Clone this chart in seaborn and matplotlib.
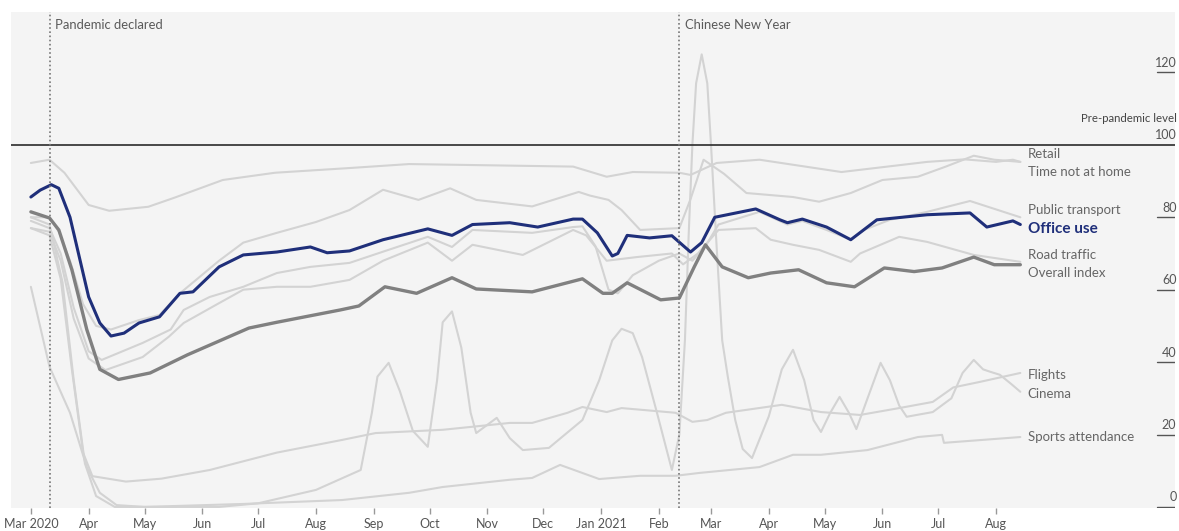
import matplotlib
matplotlib.use("Agg")
import matplotlib.pyplot as plt
import matplotlib.transforms as mtransforms
import pandas as pd
import seaborn as sns

sns.set_theme(style="white")
plt.rcParams['font.family'] = ['Lato', 'DejaVu Sans']

# ---- data (index, pre-pandemic level = 100) ----
office = [("2020-03-01", 85.6), ("2020-03-06", 87.5), ("2020-03-12", 89.0), ("2020-03-16", 88.0),
          ("2020-03-22", 80.0), ("2020-03-27", 69.0), ("2020-04-01", 58.0), ("2020-04-07", 50.8),
          ("2020-04-13", 47.2), ("2020-04-20", 48.0), ("2020-04-28", 50.8), ("2020-05-09", 52.5),
          ("2020-05-20", 59.0), ("2020-05-27", 59.4), ("2020-06-10", 66.3), ("2020-06-23", 69.6),
          ("2020-07-11", 70.4), ("2020-07-29", 71.8), ("2020-08-07", 70.2), ("2020-08-19", 70.7),
          ("2020-09-06", 73.8), ("2020-09-30", 76.8), ("2020-10-13", 75.0), ("2020-10-24", 78.0),
          ("2020-11-13", 78.5), ("2020-11-28", 77.3), ("2020-12-17", 79.5), ("2020-12-22", 79.5),
          ("2020-12-30", 75.7), ("2021-01-07", 69.3), ("2021-01-10", 70.0), ("2021-01-15", 75.0),
          ("2021-01-27", 74.3), ("2021-02-08", 74.9), ("2021-02-18", 70.4), ("2021-02-24", 73.0),
          ("2021-03-03", 80.0), ("2021-03-25", 82.3), ("2021-04-07", 79.3), ("2021-04-11", 78.5),
          ("2021-04-19", 79.5), ("2021-05-02", 77.3), ("2021-05-15", 73.8), ("2021-05-29", 79.3),
          ("2021-06-25", 80.7), ("2021-07-18", 81.2), ("2021-07-27", 77.3), ("2021-08-10", 79.0),
          ("2021-08-14", 78.0)]

overall = [("2020-03-01", 81.5), ("2020-03-11", 79.8), ("2020-03-16", 76.5), ("2020-03-23", 65.5),
           ("2020-03-31", 49.0), ("2020-04-07", 38.0), ("2020-04-17", 35.2), ("2020-05-04", 37.0),
           ("2020-05-24", 42.0), ("2020-06-26", 49.4), ("2020-07-11", 51.0), ("2020-08-14", 54.4),
           ("2020-08-24", 55.5), ("2020-09-07", 60.8), ("2020-09-24", 59.0), ("2020-10-13", 63.3),
           ("2020-10-26", 60.2), ("2020-11-25", 59.4), ("2020-12-22", 63.0), ("2021-01-02", 59.0),
           ("2021-01-07", 59.0), ("2021-01-15", 61.9), ("2021-02-02", 57.2), ("2021-02-12", 57.7),
           ("2021-02-20", 66.3), ("2021-02-26", 72.4), ("2021-03-07", 66.3), ("2021-03-21", 63.3),
           ("2021-04-02", 64.6), ("2021-04-17", 65.5), ("2021-05-02", 61.9), ("2021-05-17", 60.8),
           ("2021-06-02", 66.0), ("2021-06-18", 65.0), ("2021-07-03", 66.0), ("2021-07-20", 69.0),
           ("2021-07-31", 66.9), ("2021-08-14", 66.9)]

retail = [("2020-03-01", 95.0), ("2020-03-11", 95.9), ("2020-03-19", 92.3), ("2020-04-01", 83.4),
          ("2020-04-12", 81.8), ("2020-05-03", 82.9), ("2020-05-17", 85.4), ("2020-06-12", 90.3),
          ("2020-07-10", 92.3), ("2020-08-19", 93.6), ("2020-09-20", 94.7), ("2020-12-17", 94.0),
          ("2021-01-04", 91.2), ("2021-01-18", 92.5), ("2021-02-12", 92.3), ("2021-02-18", 91.7),
          ("2021-03-04", 95.0), ("2021-03-27", 95.9), ("2021-05-10", 92.5), ("2021-06-25", 95.3),
          ("2021-07-15", 96.0), ("2021-08-01", 95.3), ("2021-08-10", 95.9), ("2021-08-14", 95.3)]

time_not_home = [("2020-03-01", 80.0), ("2020-03-11", 80.0), ("2020-03-16", 76.0), ("2020-03-22", 68.0),
                 ("2020-03-29", 56.0), ("2020-04-05", 50.0), ("2020-04-13", 49.0), ("2020-04-28", 51.6),
                 ("2020-05-09", 53.0), ("2020-05-20", 59.0), ("2020-06-10", 68.0), ("2020-06-23", 73.0),
                 ("2020-07-11", 75.7), ("2020-08-01", 78.7), ("2020-08-19", 82.0), ("2020-09-06", 87.6),
                 ("2020-09-25", 84.8), ("2020-10-12", 88.0), ("2020-10-26", 84.8), ("2020-11-25", 83.0),
                 ("2020-12-20", 87.0), ("2020-12-26", 86.0), ("2021-01-05", 84.8), ("2021-01-12", 82.0),
                 ("2021-01-22", 76.5), ("2021-02-12", 77.0), ("2021-02-18", 85.0), ("2021-02-25", 95.9),
                 ("2021-03-08", 92.0), ("2021-03-20", 86.7), ("2021-04-14", 85.6), ("2021-04-28", 84.3),
                 ("2021-05-15", 86.7), ("2021-06-01", 90.3), ("2021-06-20", 91.2), ("2021-07-05", 94.0),
                 ("2021-07-20", 97.0), ("2021-07-31", 95.9), ("2021-08-14", 95.3)]

public_transport = [("2020-03-01", 79.0), ("2020-03-11", 77.0), ("2020-03-17", 70.0), ("2020-03-24", 55.0),
                    ("2020-04-01", 43.0), ("2020-04-08", 40.6), ("2020-04-30", 45.3), ("2020-05-15", 49.0),
                    ("2020-05-22", 54.4), ("2020-06-05", 58.0), ("2020-06-23", 60.8), ("2020-07-11", 64.6),
                    ("2020-07-29", 66.3), ("2020-08-19", 67.4), ("2020-09-06", 70.5), ("2020-09-30", 74.6),
                    ("2020-10-13", 71.8), ("2020-10-24", 76.5), ("2020-11-25", 75.7), ("2020-12-17", 77.3),
                    ("2020-12-22", 77.5), ("2020-12-29", 72.0), ("2021-01-05", 60.0), ("2021-01-10", 59.0),
                    ("2021-01-18", 64.0), ("2021-02-01", 68.0), ("2021-02-12", 70.0), ("2021-02-19", 68.0),
                    ("2021-02-26", 72.0), ("2021-03-05", 78.0), ("2021-03-27", 81.5), ("2021-04-11", 78.0),
                    ("2021-04-19", 79.0), ("2021-05-02", 76.5), ("2021-05-15", 73.8), ("2021-05-22", 76.5),
                    ("2021-06-05", 79.3), ("2021-06-25", 81.5), ("2021-07-18", 84.5), ("2021-08-14", 80.0)]

road_traffic = [("2020-03-01", 77.0), ("2020-03-11", 76.0), ("2020-03-17", 68.0), ("2020-03-24", 52.0),
                ("2020-04-01", 41.0), ("2020-04-10", 37.8), ("2020-04-30", 41.4), ("2020-05-14", 47.0),
                ("2020-05-22", 50.8), ("2020-06-09", 56.0), ("2020-06-23", 60.0), ("2020-07-11", 60.8),
                ("2020-07-29", 60.8), ("2020-08-19", 62.7), ("2020-09-06", 68.0), ("2020-09-30", 73.0),
                ("2020-10-13", 68.0), ("2020-10-24", 72.4), ("2020-11-20", 69.6), ("2020-12-17", 76.5),
                ("2020-12-24", 75.0), ("2021-01-04", 68.0), ("2021-01-20", 69.0), ("2021-02-08", 70.0),
                ("2021-02-14", 67.0), ("2021-02-22", 70.0), ("2021-03-05", 76.5), ("2021-03-25", 77.0),
                ("2021-04-02", 73.8), ("2021-04-14", 72.4), ("2021-04-28", 71.0), ("2021-05-15", 67.7),
                ("2021-05-20", 70.0), ("2021-06-10", 74.6), ("2021-06-25", 73.2), ("2021-07-20", 69.6),
                ("2021-08-14", 67.7)]

flights = [("2020-03-01", 77.0), ("2020-03-11", 75.0), ("2020-03-17", 63.0), ("2020-03-23", 38.0),
           ("2020-03-29", 15.0), ("2020-04-03", 8.5), ("2020-04-21", 7.0), ("2020-05-10", 7.8),
           ("2020-06-05", 10.2), ("2020-07-11", 15.0), ("2020-08-15", 18.5), ("2020-09-02", 20.4),
           ("2020-10-08", 21.3), ("2020-11-13", 23.2), ("2020-11-25", 23.2), ("2020-12-14", 26.0),
           ("2020-12-22", 27.6), ("2021-01-04", 26.2), ("2021-01-12", 27.3), ("2021-02-10", 26.0),
           ("2021-02-19", 23.5), ("2021-02-27", 24.0), ("2021-03-09", 26.0), ("2021-04-08", 28.2),
           ("2021-04-29", 26.2), ("2021-05-20", 25.4), ("2021-06-10", 27.3), ("2021-06-28", 29.0),
           ("2021-07-09", 33.0), ("2021-07-23", 34.5), ("2021-08-14", 37.0)]

cinema = [("2020-03-01", 80.0), ("2020-03-11", 78.0), ("2020-03-18", 62.0), ("2020-03-24", 35.0),
          ("2020-03-30", 12.0), ("2020-04-05", 3.0), ("2020-04-15", 0.0), ("2020-06-10", 0.0),
          ("2020-07-01", 1.0), ("2020-08-01", 4.7), ("2020-08-25", 10.2), ("2020-08-31", 26.0),
          ("2020-09-03", 36.0), ("2020-09-09", 39.8), ("2020-09-15", 32.0), ("2020-09-22", 21.0),
          ("2020-09-30", 16.6), ("2020-10-05", 35.0), ("2020-10-08", 51.0), ("2020-10-13", 54.0),
          ("2020-10-18", 44.0), ("2020-10-23", 26.0), ("2020-10-26", 20.4), ("2020-11-06", 24.6),
          ("2020-11-13", 19.0), ("2020-11-20", 15.7), ("2020-12-04", 16.3), ("2020-12-22", 24.0),
          ("2020-12-31", 35.0), ("2021-01-07", 46.0), ("2021-01-12", 49.2), ("2021-01-18", 48.0),
          ("2021-01-23", 41.4), ("2021-01-31", 26.0), ("2021-02-08", 10.2), ("2021-02-12", 20.0),
          ("2021-02-15", 46.0), ("2021-02-17", 75.0), ("2021-02-19", 100.0), ("2021-02-21", 117.0),
          ("2021-02-24", 125.0), ("2021-02-27", 117.0), ("2021-03-01", 100.0), ("2021-03-04", 72.0),
          ("2021-03-07", 46.0), ("2021-03-10", 36.0), ("2021-03-14", 24.0), ("2021-03-18", 16.0),
          ("2021-03-23", 13.5), ("2021-04-01", 25.0), ("2021-04-08", 38.0), ("2021-04-14", 43.4),
          ("2021-04-20", 35.0), ("2021-04-25", 24.0), ("2021-04-29", 20.7), ("2021-05-04", 26.0),
          ("2021-05-09", 30.4), ("2021-05-14", 26.0), ("2021-05-18", 21.5), ("2021-05-24", 30.0),
          ("2021-05-31", 39.8), ("2021-06-05", 35.0), ("2021-06-10", 28.0), ("2021-06-14", 24.9),
          ("2021-06-28", 26.2), ("2021-07-08", 30.0), ("2021-07-14", 37.0), ("2021-07-20", 40.6),
          ("2021-07-25", 38.0), ("2021-07-29", 37.3), ("2021-08-03", 36.5), ("2021-08-09", 34.0),
          ("2021-08-14", 31.8)]

sports = [("2020-03-01", 60.8), ("2020-03-11", 38.7), ("2020-03-22", 26.0), ("2020-03-31", 11.0),
          ("2020-04-07", 3.9), ("2020-04-16", 0.5), ("2020-05-01", 0.0), ("2020-06-22", 0.8),
          ("2020-08-15", 1.9), ("2020-09-20", 3.9), ("2020-10-08", 5.5), ("2020-11-13", 7.5),
          ("2020-11-25", 8.0), ("2020-12-10", 11.6), ("2020-12-31", 7.7), ("2021-01-22", 8.6),
          ("2021-02-10", 8.6), ("2021-02-23", 9.4), ("2021-03-27", 11.0), ("2021-04-14", 14.4),
          ("2021-04-29", 14.4), ("2021-05-24", 15.7), ("2021-06-20", 19.3), ("2021-07-03", 19.9),
          ("2021-07-04", 17.7), ("2021-08-14", 19.3)]

# end-of-line labels and where they sit vertically
labels = ["Retail", "Time not at home", "Public transport", "Office use", "Road traffic",
          "Overall index", "Flights", "Cinema", "Sports attendance"]
label_y = [97.5, 92.5, 82.0, 76.8, 69.6, 64.6, 36.5, 31.2, 19.3]

y_ticks = [0, 20, 40, 60, 80, 100, 120]
month_ticks = pd.date_range("2020-03-01", "2021-08-01", freq="MS")
month_labels = ["Mar 2020", "Apr", "May", "Jun", "Jul", "Aug", "Sep", "Oct", "Nov", "Dec",
                "Jan 2021", "Feb", "Mar", "Apr", "May", "Jun", "Jul", "Aug"]
events = [("2020-03-11", "Pandemic declared"), ("2021-02-12", "Chinese New Year")]

# ---- build long table ----
light = "#d3d3d3"
navy = "#1f2f7a"
grey = "#808080"
series = [("Retail", retail, light, 1.5, 2), ("Time not at home", time_not_home, light, 1.5, 2),
          ("Public transport", public_transport, light, 1.5, 2), ("Road traffic", road_traffic, light, 1.5, 2),
          ("Flights", flights, light, 1.5, 2), ("Cinema", cinema, light, 1.5, 2),
          ("Sports attendance", sports, light, 1.5, 2), ("Overall index", overall, grey, 2.4, 3),
          ("Office use", office, navy, 2.2, 4)]
rows = []
for name, pts, _, _, _ in series:
    for d, v in pts:
        rows.append((name, pd.Timestamp(d), v))
df = pd.DataFrame(rows, columns=["series", "date", "value"])

fig = plt.figure(figsize=(11.79, 5.31), dpi=100)
ax = fig.add_axes([11 / 1179, 23 / 531, 1164 / 1179, 496 / 531])
ax.set_facecolor("#f4f4f4")

for name, _, col, lw, z in series:
    sns.lineplot(data=df[df.series == name], x="date", y="value", color=col,
                 linewidth=lw, ax=ax, zorder=z)

ax.set_xlim(pd.Timestamp("2020-02-19 08:00"), pd.Timestamp("2021-11-05"))
ax.set_ylim(-0.3, 136.7)
for s in ax.spines.values():
    s.set_visible(False)

# pre-pandemic line
ax.axhline(100, color="#3a3a3a", lw=1.3, zorder=2.5)

# events
for d, txt in events:
    ax.axvline(pd.Timestamp(d), color="#777777", lw=1.2, ls=(0, (1, 1.5)), zorder=5)
    ax.annotate(txt, xy=(pd.Timestamp(d), 1.0), xycoords=("data", "axes fraction"),
                xytext=(4, -5), textcoords="offset points", ha="left", va="top",
                fontsize=9.4, color="#5a5a5a")

# right-hand y scale
trans = mtransforms.blended_transform_factory(ax.transAxes, ax.transData)
ax.set_yticks([])
for v in y_ticks:
    if v != 100:
        ax.axhline(v, xmin=0.9845, xmax=1.0, color="#555555", lw=1.0)
    ax.annotate(str(v), xy=(1.0, v), xycoords=trans, xytext=(1, 2.5),
                textcoords="offset points", ha="right", va="bottom", fontsize=9, color="#555555")
ax.annotate("Pre-pandemic level", xy=(1.0, 100), xycoords=trans, xytext=(1.5, 15),
            textcoords="offset points", ha="right", va="bottom", fontsize=8.2, color="#444444")

# series labels
lab_x = pd.Timestamp("2021-08-18")
for txt, yv in zip(labels, label_y):
    if txt == "Office use":
        ax.text(lab_x, yv, txt, ha="left", va="center", fontsize=11, fontweight="bold", color=navy)
    else:
        ax.text(lab_x, yv, txt, ha="left", va="center", fontsize=9.5, color="#666666")

# x axis
ax.set_xticks(month_ticks)
ax.set_xticklabels(month_labels)
ax.tick_params(axis="x", bottom=True, length=4, width=1, color="#999999", direction="out",
               labelsize=9, labelcolor="#555555", pad=3)
ax.set_xlabel("")
ax.set_ylabel("")

fig.savefig("out.png", dpi=100)
